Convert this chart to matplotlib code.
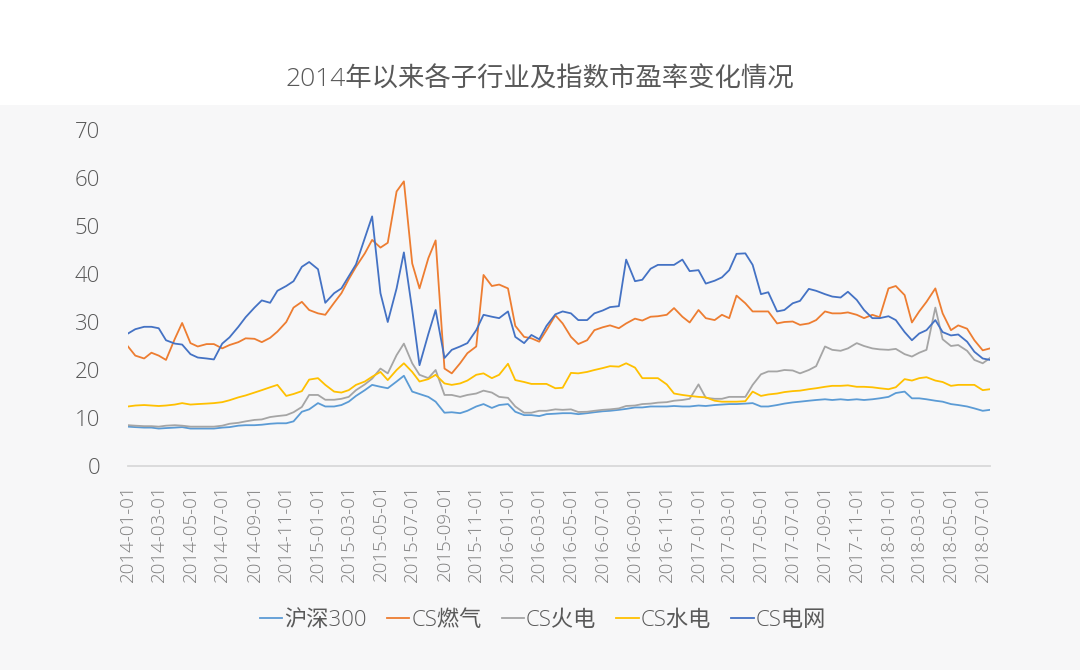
import numpy as np
import pandas as pd
import matplotlib
matplotlib.use("Agg")
import matplotlib.pyplot as plt
import matplotlib.dates as mdates
from matplotlib.patches import Rectangle

plt.rcParams['font.family'] = ['Open Sans', 'Noto Sans CJK SC', 'DejaVu Sans']

# semi-monthly sample dates (1st and 15th)
dates = pd.date_range('2014-01-01', '2018-07-15', freq='SMS')

names = ['沪深300', 'CS燃气', 'CS火电', 'CS水电', 'CS电网']
colors = ['#5B9BD5', '#ED7D31', '#A5A5A5', '#FFC000', '#4472C4']

# P/E values
hs300 = [8.2, 8.1, 8.0, 8.0, 7.8, 7.9, 8.0, 8.1, 7.8, 7.8, 7.8, 7.8, 8.0, 8.1, 8.4, 8.5, 8.5, 8.6, 8.8, 8.9, 8.9, 9.3, 11.3, 11.8,
         13.1, 12.4, 12.4, 12.7, 13.4, 14.6, 15.8, 16.9, 16.5, 16.2, 17.6, 18.8, 15.5, 15.0, 14.4, 13.4, 11.1, 11.2, 11.0, 11.5, 12.4, 12.9, 12.1, 12.7,
         12.9, 11.3, 10.6, 10.6, 10.4, 10.8, 10.9, 11.0, 11.0, 10.8, 11.0, 11.2, 11.4, 11.5, 11.7, 11.9, 12.2, 12.2, 12.4, 12.4, 12.4, 12.5, 12.4, 12.4,
         12.6, 12.5, 12.7, 12.8, 12.9, 12.9, 13.0, 13.1, 12.4, 12.4, 12.7, 13.0, 13.25, 13.4, 13.6, 13.75, 13.9, 13.75, 13.9, 13.75, 13.9, 13.75, 13.9, 14.1,
         14.4, 15.2, 15.5, 14.1, 14.1, 13.9, 13.6, 13.4, 12.9, 12.7, 12.4, 12.0, 11.5, 11.7]
ranqi = [24.9, 23.0, 22.4, 23.6, 23.0, 22.1, 26.5, 29.8, 25.6, 24.9, 25.4, 25.4, 24.5, 25.2, 25.8, 26.6, 26.5, 25.8, 26.7, 28.0, 30.0, 33.0, 34.2, 32.5,
         31.8, 31.5, 34.0, 36.0, 38.9, 41.5, 44.3, 47.1, 45.5, 46.5, 57.2, 59.3, 42.2, 37.0, 43.3, 47.0, 20.3, 19.3, 21.4, 23.5, 24.9, 39.8, 37.5, 37.8,
         37.0, 29.2, 26.9, 26.6, 25.9, 28.3, 31.4, 29.7, 26.9, 25.4, 26.2, 28.3, 28.9, 29.3, 28.7, 29.7, 30.7, 30.3, 31.1, 31.2, 31.5, 32.9, 31.1, 29.9,
         32.5, 30.8, 30.4, 31.5, 30.8, 35.5, 33.9, 32.2, 32.2, 32.2, 29.7, 30.0, 30.1, 29.4, 29.7, 30.4, 32.2, 31.8, 31.8, 32.0, 31.5, 30.8, 31.5, 31.0,
         37.0, 37.5, 35.6, 29.9, 32.2, 34.2, 37.0, 31.8, 28.3, 29.3, 28.6, 26.2, 24.1, 24.5]
huodian = [8.5, 8.4, 8.3, 8.3, 8.2, 8.4, 8.5, 8.4, 8.2, 8.2, 8.2, 8.2, 8.4, 8.8, 9.0, 9.3, 9.6, 9.7, 10.2, 10.4, 10.6, 11.2, 12.3, 14.8,
           14.8, 13.8, 13.8, 14.0, 14.4, 15.8, 17.0, 18.2, 20.3, 19.3, 23.1, 25.5, 21.4, 19.0, 18.3, 20.0, 14.8, 14.8, 14.4, 14.8, 15.1, 15.7, 15.3, 14.4,
           14.2, 12.4, 11.1, 11.1, 11.5, 11.5, 11.8, 11.7, 11.8, 11.25, 11.3, 11.5, 11.7, 11.8, 12.0, 12.5, 12.6, 12.9, 13.0, 13.2, 13.3, 13.6, 13.75, 14.0,
           17.0, 14.2, 14.0, 14.0, 14.4, 14.4, 14.4, 16.9, 19.1, 19.7, 19.7, 20.0, 19.9, 19.3, 20.0, 20.8, 24.9, 24.2, 24.0, 24.5, 25.6, 25.0, 24.5, 24.3,
           24.2, 24.4, 23.3, 22.8, 23.6, 24.2, 33.0, 26.4, 25.0, 25.2, 24.0, 22.1, 21.4, 22.5]
shuidian = [12.4, 12.6, 12.7, 12.6, 12.5, 12.6, 12.8, 13.1, 12.8, 12.9, 13.0, 13.1, 13.3, 13.7, 14.3, 14.7, 15.3, 15.8, 16.4, 16.9, 14.6, 15.0, 15.6, 18.0,
            18.3, 16.9, 15.5, 15.3, 15.8, 16.9, 17.6, 18.6, 19.6, 17.9, 20.0, 21.4, 19.6, 17.6, 18.1, 19.0, 17.2, 16.9, 17.2, 17.8, 19.0, 19.3, 18.3, 19.0,
            21.3, 17.9, 17.5, 17.1, 17.1, 17.1, 16.2, 16.3, 19.4, 19.3, 19.6, 20.0, 20.4, 20.8, 20.7, 21.4, 20.5, 18.3, 18.3, 18.3, 17.0, 15.1, 14.8, 14.6,
            14.4, 14.3, 13.6, 13.4, 13.4, 13.4, 13.5, 15.5, 14.6, 14.9, 15.1, 15.4, 15.6, 15.7, 16.0, 16.2, 16.5, 16.7, 16.7, 16.8, 16.5, 16.5, 16.4, 16.2,
            16.0, 16.4, 18.1, 17.8, 18.3, 18.5, 17.8, 17.5, 16.7, 16.9, 16.9, 16.9, 15.8, 16.0]
dianwang = [27.6, 28.5, 29.0, 29.0, 28.7, 26.2, 25.5, 25.3, 23.3, 22.6, 22.4, 22.2, 25.5, 26.8, 29.0, 31.0, 33.0, 34.5, 34.0, 36.5, 37.5, 38.5, 41.5, 42.5,
            41.0, 34.0, 36.0, 37.0, 39.5, 42.0, 47.5, 52.0, 36.0, 30.0, 37.0, 44.5, 32.5, 21.0, 27.5, 32.5, 22.5, 24.2, 24.9, 25.6, 28.3, 31.5, 31.1, 30.8,
            32.2, 26.9, 25.6, 27.3, 26.4, 29.2, 31.6, 32.2, 31.8, 30.4, 30.4, 31.8, 32.4, 33.1, 33.3, 43.0, 38.5, 38.8, 41.1, 41.9, 41.9, 41.9, 43.0, 40.6,
            40.8, 38.0, 38.6, 39.3, 40.8, 44.2, 44.3, 41.9, 35.8, 36.2, 32.2, 32.5, 33.9, 34.4, 36.9, 36.5, 35.8, 35.3, 35.1, 36.3, 34.6, 32.5, 30.8, 30.8,
            31.2, 30.4, 27.9, 26.2, 27.6, 28.3, 30.4, 27.9, 27.2, 27.4, 25.9, 23.8, 22.4, 22.1]

series = [hs300, ranqi, huodian, shuidian, dianwang]

fig = plt.figure(figsize=(10.8, 6.7), dpi=100)
fig.patch.set_facecolor('white')
# light grey panel under the title strip
fig.patches.append(Rectangle((0, 0), 1, 565 / 670, transform=fig.transFigure,
                             facecolor='#F7F7F8', edgecolor='none', zorder=-10))

ax = fig.add_axes([128 / 1080, 204 / 670, 862 / 1080, 336 / 670])
ax.set_facecolor('none')
ax.set_zorder(5)

for vals, name, c in zip(series, names, colors):
    ax.plot(dates, vals, color=c, lw=1.3, label=name)

ax.set_xlim(dates[0], dates[-1])
ax.set_ylim(0, 70)
ax.set_yticks(range(0, 71, 10))
ax.xaxis.set_major_locator(mdates.MonthLocator(bymonth=[1, 3, 5, 7, 9, 11]))
ax.xaxis.set_major_formatter(mdates.DateFormatter('%Y-%m-%d'))

for s in ['top', 'right', 'left']:
    ax.spines[s].set_visible(False)
ax.spines['bottom'].set_color('#D9D9D9')
ax.spines['bottom'].set_linewidth(1.3)

ax.tick_params(axis='y', length=0, pad=20, labelsize=16, labelcolor='#595959')
ax.tick_params(axis='x', length=0, pad=13, labelsize=13.5, labelcolor='#7F7F7F',
               labelrotation=90)
for lab in ax.get_xticklabels() + ax.get_yticklabels():
    lab.set_fontweight('light')

fig.text(540 / 1080, 1 - 80 / 670, '2014年以来各子行业及指数市盈率变化情况',
         ha='center', va='center', fontsize=19, color='#595959', fontweight='light')

leg = fig.legend(loc='center', bbox_to_anchor=(543 / 1080, 1 - 620 / 670), ncol=5,
                 frameon=False, fontsize=16, handlelength=1.0, handletextpad=0.1,
                 columnspacing=0.9)
for t in leg.get_texts():
    t.set_color('#595959')
    t.set_fontweight('light')
for h in leg.get_lines():
    h.set_linewidth(1.3)

fig.savefig('out.png', dpi=100)
